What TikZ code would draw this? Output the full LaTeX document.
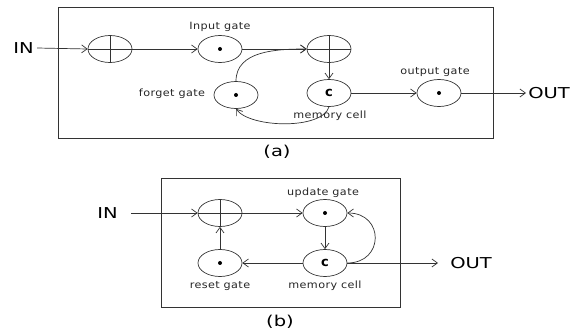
\documentclass[tikz,border=0pt]{standalone}
\usepackage{fontspec}
\setmainfont{DejaVu Sans}
\newfontfamily\lab[FakeStretch=1.12,LetterSpace=4]{DejaVu Sans}
\newfontfamily\iofont[FakeStretch=1.3]{DejaVu Sans}
\usetikzlibrary{shapes.geometric,arrows.meta}
\begin{document}
\begin{tikzpicture}[x=1pt,y=-1pt,
  line width=0.7pt, draw=black!80,
  >={Straight Barb[length=5.5pt,width=8pt]},
  gate/.style={ellipse,draw=black!80,minimum width=44pt,minimum height=27pt,inner sep=0pt},
  plusgate/.style={gate,path picture={\draw[black!80] (path picture bounding box.north) -- (path picture bounding box.south) (path picture bounding box.west) -- (path picture bounding box.east);}},
  dotgate/.style={gate,path picture={\fill (path picture bounding box.center) circle (2pt);}},
  cgate/.style={gate,font=\fontsize{13}{13}\selectfont\bfseries},
  lbl/.style={font=\lab\fontsize{10}{10}\selectfont,inner sep=0pt,text=black!85},
  io/.style={font=\iofont\fontsize{15}{15}\selectfont,inner sep=0pt},
  captext/.style={font=\iofont\fontsize{15}{15}\selectfont,inner sep=0pt},
  frame/.style={draw=black!80,line width=0.8pt}]
\useasboundingbox (0,0) rectangle (582,334);
% ---------- (a) ----------
\node[frame,minimum width=435pt,minimum height=131pt,inner sep=0pt] (boxa) at (275.5,72.5) {};
\node[io,anchor=west] (ina) at (13,48) {IN};
\node[plusgate] (p1) at (110,49) {};
\node[dotgate] (ig) at (220,49) {};
\node[lbl] (igl) at (220,27) {Input gate};
\node[plusgate] (p3) at (329,49) {};
\node[cgate] (mc) at (329,93) {c};
\node[lbl] (mcl) at (330,116) {memory cell};
\node[dotgate] (og) at (439,93) {};
\node[lbl] (ogl) at (435,72) {output gate};
\node[dotgate] (fg) at (236,95) {};
\node[lbl] (fgl) at (172,94) {forget gate};
\node[io,anchor=west] (outa) at (528,93) {OUT};
\node[captext] (capa) at (277,152) {(a)};
\draw[->] ([xshift=3pt]ina.east) -- (p1.west);
\draw[->] (p1.east) -- (ig.west);
\draw[->] (ig.east) -- (p3.west);
\draw[->] (fg.north) to[out=90,in=180] (p3.west);
\draw[->] (p3.south) -- (mc.north);
\draw[->] (mc.east) -- (og.west);
\draw[->] (og.east) -- ([xshift=-2pt]outa.west);
\draw[->] (mc.south) .. controls (322,130) and (250,128) .. (fg.south);
% ---------- (b) ----------
\node[frame,minimum width=239pt,minimum height=129pt,inner sep=0pt] (boxb) at (281,243) {};
\node[io,anchor=west] (inb) at (97,213) {IN};
\node[plusgate] (q1) at (220,213) {};
\node[dotgate] (ug) at (325,213) {};
\node[lbl] (ugl) at (323,193) {update gate};
\node[cgate] (mc2) at (325,263) {c};
\node[lbl] (mc2l) at (325,286) {memory cell};
\node[dotgate] (rg) at (220,263) {};
\node[lbl] (rgl) at (220,286) {reset gate};
\node[io,anchor=west] (outb) at (450,263) {OUT};
\node[captext] (capb) at (280,322) {(b)};
\draw[->] ([xshift=13pt]inb.east) -- (q1.west);
\draw[->] (q1.east) -- (ug.west);
\draw[->] (ug.south) -- (mc2.north);
\draw[->] (mc2.west) -- (rg.east);
\draw[->] (rg.north) -- (q1.south);
\draw[->] (mc2.east) to[out=0,in=0,looseness=1.9] (ug.east);
\draw[->] (mc2.east) -- ([xshift=-12pt]outb.west);
\end{tikzpicture}
\end{document}
